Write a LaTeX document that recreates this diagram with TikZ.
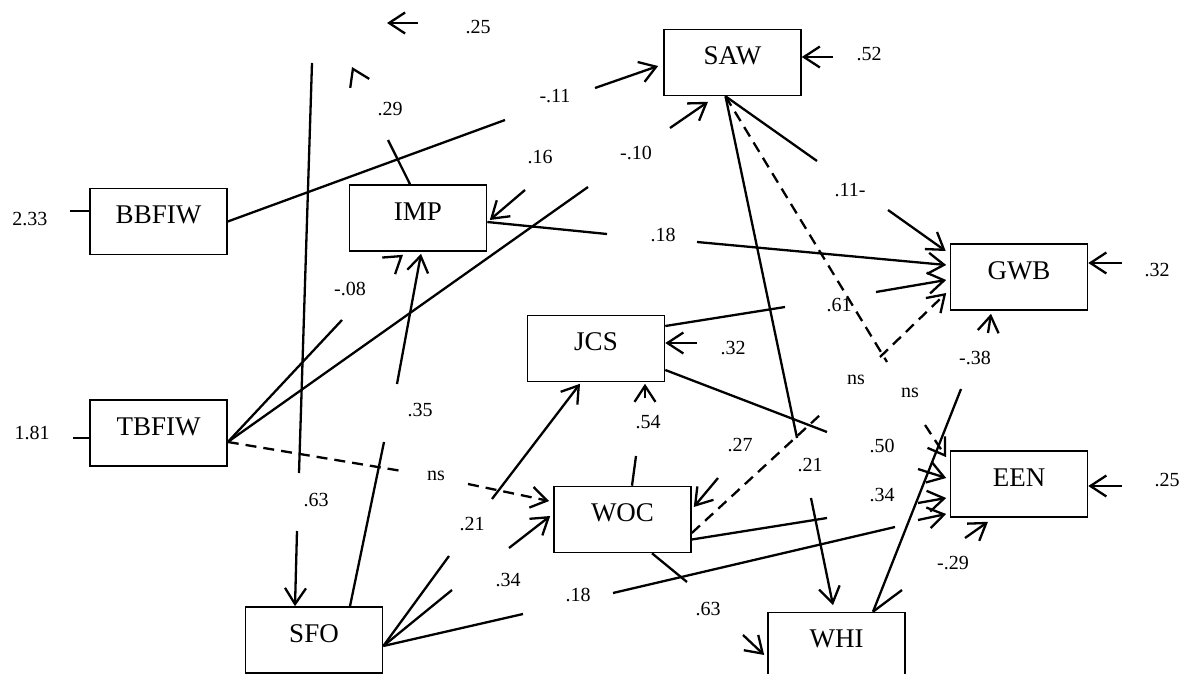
\documentclass[tikz,border=0pt]{standalone}
\usepackage{fontspec}
\setmainfont{Liberation Serif}
\usetikzlibrary{arrows.meta}

\begin{document}
\begin{tikzpicture}[x=1pt, y=-1pt, line width=2.3pt,
    >={Straight Barb[length=16pt, width=21pt]},
    varbox/.style={draw, line width=1.6pt, minimum width=137pt, minimum height=66pt,
        inner sep=0pt, text height=18pt, text depth=14pt, font=\fontsize{27}{30}\selectfont},
    lbl/.style={inner sep=0pt, font=\fontsize{20}{24}\selectfont},
    nsline/.style={dash pattern=on 11pt off 7pt}]

    \useasboundingbox (0,0) rectangle (1189,674);
    \clip (0,0) rectangle (1189,674);

    \node[varbox] (bbfiw) at (158.5,221.5) {BBFIW};
    \node[varbox] (tbfiw) at (158.5,433) {TBFIW};
    \node[varbox] (imp) at (418,218) {IMP};
    \node[varbox] (saw) at (732.5,62.5) {SAW};
    \node[varbox] (jcs) at (596,348.5) {JCS};
    \node[varbox] (woc) at (622.5,519.5) {WOC};
    \node[varbox] (sfo) at (314,640) {SFO};
    \node[varbox] (gwb) at (1019,277) {GWB};
    \node[varbox] (een) at (1019,484) {EEN};
    \node[varbox] (whi) at (836.5,645.5) {WHI};

    \coordinate (c233) at (70,211);
    \coordinate (c181) at (73,438);
    \coordinate (c52) at (833,57);
    \coordinate (cg32) at (1122,263);
    \coordinate (ce25) at (1122,486);
    \coordinate (cj32) at (697,343);
    \coordinate (top25a) at (418,23);
    \coordinate (top25b) at (387,23);
    \coordinate (p29a) at (388,140);
    \coordinate (p29b) at (353.7,70.6);
    \coordinate (p29c) at (352,67);
    \coordinate (bs1) at (505,120);
    \coordinate (bs2) at (595,88);
    \coordinate (ts1) at (588,187);
    \coordinate (ts2) at (670,128);
    \coordinate (c16) at (525,190);
    \coordinate (ig1) at (607,234);
    \coordinate (ig2) at (697,242);
    \coordinate (sg1) at (817,161);
    \coordinate (sg2) at (888,210);
    \coordinate (jg1) at (785,307);
    \coordinate (jg2) at (876,292);
    \coordinate (se1) at (887,362);
    \coordinate (se2) at (925,425);
    \coordinate (wg1) at (820,415);
    \coordinate (wg2) at (880,357);
    \coordinate (c27) at (718,478);
    \coordinate (sw1) at (797,438);
    \coordinate (sw2) at (811,498);
    \coordinate (je1) at (827,432);
    \coordinate (je2) at (918,469);
    \coordinate (we1) at (827,518);
    \coordinate (we2) at (918,503);
    \coordinate (fe1) at (523,614);
    \coordinate (fe2) at (613,593);
    \coordinate (fe3) at (895,527);
    \coordinate (fe4) at (918,520);
    \coordinate (he1) at (902,590);
    \coordinate (he2) at (965,538);
    \coordinate (hg1) at (961,389);
    \coordinate (hg2) at (988,333);
    \coordinate (wj1) at (636,456);
    \coordinate (wj2) at (645,398);
    \coordinate (fj1) at (449,556);
    \coordinate (fj2) at (492,499);
    \coordinate (fw1) at (452,590);
    \coordinate (fw2) at (509,548);
    \coordinate (tw1) at (402,471);
    \coordinate (tw2) at (468,484);
    \coordinate (ti1) at (342,320);
    \coordinate (ti2) at (399.5,257.5);
    \coordinate (fi1) at (384,442);
    \coordinate (fi2) at (397,384);
    \coordinate (vf1) at (312,63);
    \coordinate (vf2) at (299,473);
    \coordinate (vf3) at (297,531);
    \coordinate (wh1) at (687,582);
    \coordinate (wh2) at (743,635);

    \node[lbl] (l233) at (30,219) {2.33};
    \node[lbl] (l181) at (32,433) {1.81};
    \node[lbl] (l25a) at (478,27) {.25};
    \node[lbl] (l29a) at (390,109) {.29};
    \node[lbl] (l11a) at (555,96) {-.11};
    \node[lbl] (l16) at (540,157) {.16};
    \node[lbl] (l10) at (636,153) {-.10};
    \node[lbl] (l18a) at (663,235) {.18};
    \node[lbl] (l52) at (869,54) {.52};
    \node[lbl] (l11b) at (850,190) {.11-};
    \node[lbl] (l61) at (839,305) {.61};
    \node[lbl] (l32a) at (1157,270) {.32};
    \node[lbl] (l08) at (350,289) {-.08};
    \node[lbl] (l35) at (420,410) {.35};
    \node[lbl] (l63a) at (316,500) {.63};
    \node[lbl] (lnsa) at (436,476) {ns};
    \node[lbl] (l32b) at (733,348) {.32};
    \node[lbl] (l54) at (648,422) {.54};
    \node[lbl] (l27) at (740,445) {.27};
    \node[lbl] (l21a) at (810,465) {.21};
    \node[lbl] (l50) at (882,446) {.50};
    \node[lbl] (l34a) at (882,495) {.34};
    \node[lbl] (lnsb) at (856,380) {ns};
    \node[lbl] (lnsc) at (910,393) {ns};
    \node[lbl] (l38) at (975,358) {-.38};
    \node[lbl] (l25b) at (1167,480) {.25};
    \node[lbl] (l29b) at (953,563) {-.29};
    \node[lbl] (l21b) at (472,524) {.21};
    \node[lbl] (l34b) at (508,580) {.34};
    \node[lbl] (l18b) at (578,595) {.18};
    \node[lbl] (l63b) at (708,609) {.63};

    \draw (c233) -- ([yshift=10.5pt]bbfiw.west);
    \draw (c181) -- ([yshift=-5pt]tbfiw.west);
    \draw[->] (c52) -- ([yshift=5.5pt]saw.east);
    \draw[->] (cg32) -- ([yshift=14pt]gwb.east);
    \draw[->] (ce25) -- ([yshift=-2pt]een.east);
    \draw[->] (cj32) -- ([yshift=5.5pt]jcs.east);
    \draw[->] (top25a) -- (top25b);

    \draw ([xshift=-8pt]imp.north) -- (p29a);
    \draw[->] (p29b) -- (p29c);

    \draw (bbfiw.east) -- (bs1);
    \draw[->] (bs2) -- ([xshift=-5pt,yshift=-3.5pt]saw.west);

    \draw ([yshift=-9pt]tbfiw.east) -- (ts1);
    \draw[->] (ts2) -- ([xshift=-24.5pt,yshift=-5.5pt]saw.south);

    \draw[->] (c16) -- ([xshift=2.5pt,yshift=-2pt]imp.east);

    \draw ([yshift=-4pt]imp.east) -- (ig1);
    \draw[->] (ig2) -- ([xshift=-3.5pt,yshift=12pt]gwb.west);

    \draw ([xshift=-7pt]saw.south) -- (sg1);
    \draw[->] (sg2) -- ([xshift=-4pt,yshift=26pt]gwb.west);

    \draw ([yshift=22.5pt]jcs.east) -- (jg1);
    \draw[->] (jg2) -- ([xshift=-3.5pt,yshift=-3pt]gwb.west);

    \draw[nsline] ([xshift=-7pt]saw.south) -- (se1);
    \draw[nsline,->] (se2) -- ([xshift=-3.5pt,yshift=-7pt]een.north west);

    \draw[nsline] ([yshift=-13.5pt]woc.east) -- (wg1);
    \draw[nsline,->] (wg2) -- ([xshift=-3.5pt,yshift=-16pt]gwb.west);

    \draw[->] (c27) -- ([xshift=2pt,yshift=12.5pt]woc.east);

    \draw ([xshift=-7pt]saw.south) -- (sw1);
    \draw[->] (sw2) -- ([xshift=-3.5pt,yshift=6.5pt]whi.north);

    \draw ([yshift=-21.5pt]jcs.east) -- (je1);
    \draw[->] (je2) -- ([xshift=-3.5pt,yshift=6pt]een.west);

    \draw ([yshift=-20pt]woc.east) -- (we1);
    \draw[->] (we2) -- ([xshift=-3.5pt,yshift=-14pt]een.west);

    \draw ([yshift=-6pt]sfo.east) -- (fe1);
    \draw (fe2) -- (fe3);
    \draw[->] (fe4) -- ([xshift=-3.5pt,yshift=-30pt]een.west);

    \draw ([xshift=36.5pt]whi.north) -- (he1);
    \draw[->] (he2) -- ([xshift=-31pt,yshift=-4pt]een.south);

    \draw ([xshift=36.5pt]whi.north) -- (hg1);
    \draw[->] (hg2) -- ([xshift=-28pt,yshift=-3pt]gwb.south);

    \draw ([xshift=9.5pt]woc.north) -- (wj1);
    \draw[->] (wj2) -- ([xshift=49pt,yshift=-1.5pt]jcs.south);

    \draw ([yshift=-6pt]sfo.east) -- (fj1);
    \draw[->] (fj2) -- ([xshift=-16pt,yshift=-1.5pt]jcs.south);

    \draw ([yshift=-6pt]sfo.east) -- (fw1);
    \draw[->] (fw2) -- ([xshift=-3pt,yshift=3.5pt]woc.west);

    \draw[nsline] ([yshift=-9pt]tbfiw.east) -- (tw1);
    \draw[nsline,->] (tw2) -- ([xshift=-4pt,yshift=18.5pt]woc.west);

    \draw ([yshift=-9pt]tbfiw.east) -- (ti1);
    \draw[->] (ti2) -- ([xshift=-15pt,yshift=-3pt]imp.south);

    \draw ([xshift=36pt]sfo.north) -- (fi1);
    \draw[->] (fi2) -- ([xshift=3pt,yshift=-2pt]imp.south);

    \draw (vf1) -- (vf2);
    \draw[->] (vf3) -- ([xshift=-19pt]sfo.north);

    \draw ([xshift=29.5pt]woc.south) -- (wh1);
    \draw[->] (wh2) -- ([xshift=-3pt,yshift=-9.5pt]whi.west);

\end{tikzpicture}
\end{document}
